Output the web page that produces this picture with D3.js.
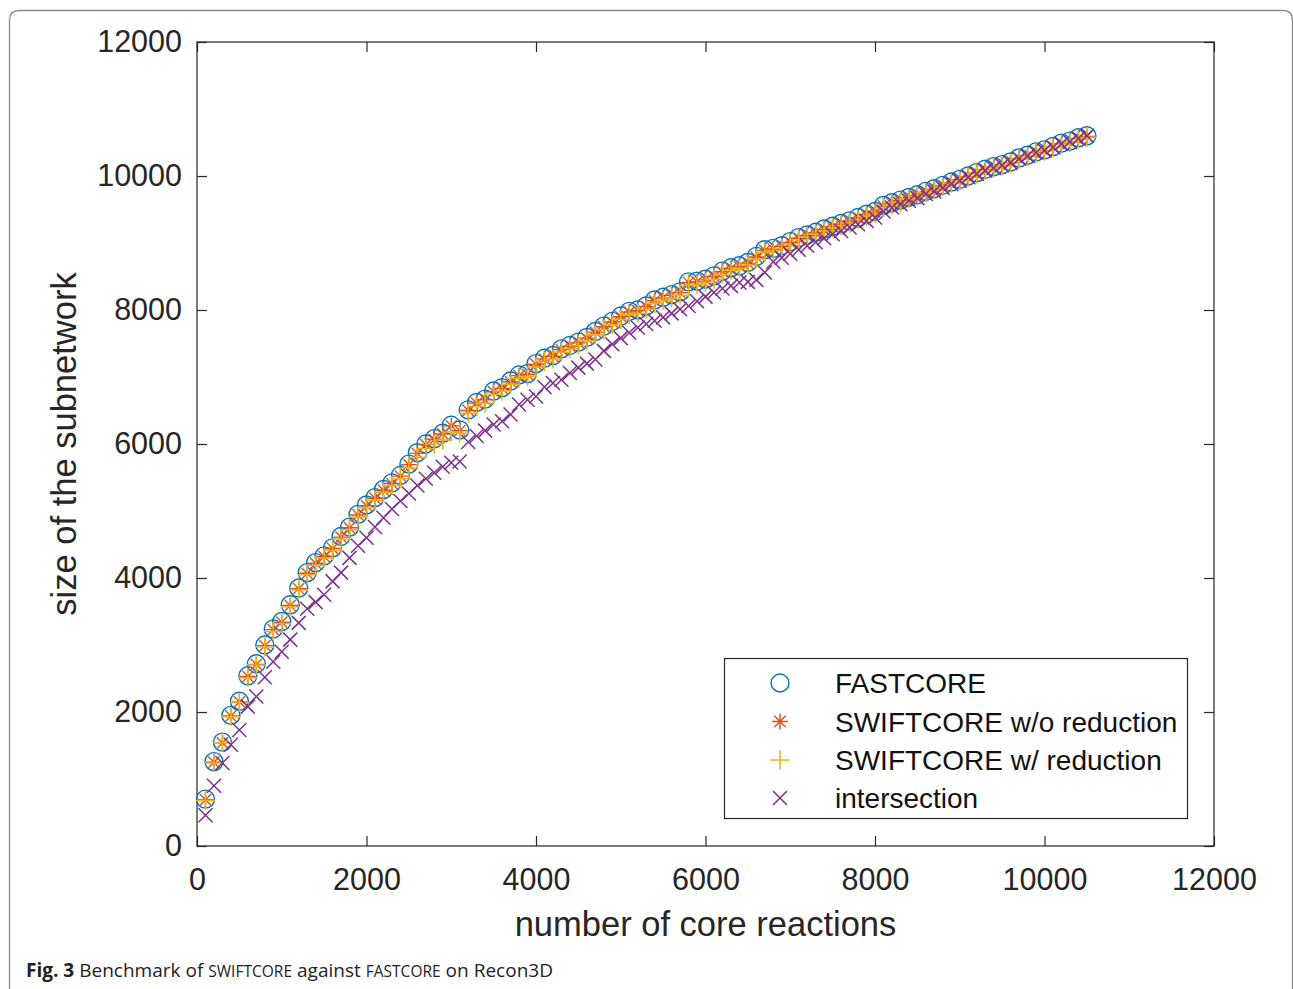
<!DOCTYPE html>
<html><head><meta charset="utf-8">
<script src="https://cdn.jsdelivr.net/npm/d3@7"></script>
<style>body{margin:0;background:#fff;} svg{display:block;}</style>
</head><body>
<svg id="c" width="1293" height="989"></svg>
<script>
// ---- data ----
const coreReactions = d3.range(100, 10501, 100); // 100 .. 10500, step 100 (x positions of the benchmark runs)
const fastcore = [700,1260,1550,1950,2160,2540,2720,3000,3240,3350,3600,3850,4080,4230,4330,4450,4620,4760,4950,5090,
5200,5320,5420,5530,5700,5870,6000,6080,6160,6280,6210,6510,6620,6670,6790,6840,6940,7030,7050,7200,
7280,7320,7420,7470,7520,7590,7680,7760,7830,7910,7980,8000,8060,8150,8190,8230,8270,8420,8430,8460,
8510,8580,8630,8660,8710,8800,8900,8920,8960,9020,9080,9120,9160,9210,9250,9290,9330,9380,9430,9470,
9560,9600,9640,9680,9720,9770,9810,9860,9910,9950,10000,10050,10100,10140,10170,10210,10270,10310,10360,10390,
10440,10490,10520,10570,10600];
const swiftNoRed = [690,1250,1540,1940,2150,2530,2710,2990,3230,3340,3590,3840,4070,4220,4320,4440,4610,4750,4940,5080,
5190,5310,5410,5520,5690,5860,5990,6070,6150,6270,6200,6500,6610,6660,6780,6830,6930,7020,7040,7190,
7270,7310,7410,7460,7510,7580,7670,7750,7820,7900,7970,7990,8050,8140,8180,8220,8260,8410,8420,8450,
8500,8570,8620,8650,8700,8790,8890,8910,8950,9010,9070,9110,9150,9200,9240,9280,9320,9370,9420,9460,
9550,9590,9630,9670,9710,9760,9800,9850,9900,9940,9990,10040,10090,10130,10160,10200,10260,10300,10350,10380,
10430,10480,10510,10560,10590];
const swiftRed = [680,1240,1540,1930,2140,2510,2700,2970,3200,3320,3570,3820,4050,4190,4300,4410,4580,4720,4910,5050,
5160,5280,5380,5480,5640,5800,5930,6000,6060,6180,6160,6460,6560,6610,6740,6790,6890,6980,7010,7150,
7230,7270,7370,7420,7470,7540,7630,7710,7780,7860,7930,7950,8010,8100,8140,8180,8220,8370,8380,8410,
8460,8530,8590,8620,8670,8760,8860,8880,8920,8990,9050,9090,9130,9180,9220,9260,9300,9350,9400,9440,
9530,9570,9610,9660,9700,9750,9790,9840,9890,9930,9980,10030,10080,10120,10150,10190,10250,10290,10340,10370,
10420,10470,10500,10550,10580];
const intersection = [460,900,1240,1510,1730,2080,2230,2520,2750,2900,3080,3330,3540,3640,3750,3950,4080,4300,4480,4600,
4760,4900,5030,5150,5260,5380,5480,5570,5660,5720,5740,6030,6120,6200,6290,6340,6440,6590,6660,6710,
6850,6910,6960,7060,7140,7200,7260,7390,7490,7580,7660,7740,7790,7840,7890,7950,8010,8060,8130,8200,
8260,8320,8360,8410,8420,8450,8560,8720,8780,8840,8900,8960,9010,9070,9130,9180,9230,9280,9330,9380,
9470,9530,9580,9630,9670,9730,9770,9820,9880,9930,9980,10030,10080,10120,10160,10200,10260,10300,10350,10380,
10430,10480,10510,10560,10600];
const xTicks = [0,2000,4000,6000,8000,10000,12000];
const yTicks = [0,2000,4000,6000,8000,10000,12000];
const seriesNames = ["FASTCORE","SWIFTCORE w/o reduction","SWIFTCORE w/ reduction","intersection"];
const seriesColors = ["#0072BD","#D95319","#EDB120","#7E2F8E"];
const seriesMarkers = ["circle","asterisk","plus","cross"];
const seriesValues = [fastcore, swiftNoRed, swiftRed, intersection];

// ---- drawing ----
const svg = d3.select("#c");
const W = 1293, H = 989;
const L = 197, R = 1214, T = 42, B = 846;
const font = "'Liberation Sans', Arial, Helvetica, sans-serif";
const axCol = "#262626";

// outer rounded frame
svg.append("path")
  .attr("d", `M9.5,${H} L9.5,20 Q9.5,10.5 19.5,10.5 L1283,10.5 Q1292.5,10.5 1292.5,20 L1292.5,${H}`)
  .attr("fill","none").attr("stroke","#8a8a8a").attr("stroke-width",1.3);

const x = d3.scaleLinear().domain([0,12000]).range([L,R]);
const y = d3.scaleLinear().domain([0,12000]).range([B,T]);

// box
svg.append("rect").attr("x",L).attr("y",T).attr("width",R-L).attr("height",B-T)
  .attr("fill","none").attr("stroke",axCol).attr("stroke-width",1.2);

const tickLen = 10;
function styleAxis(g){
  g.select(".domain").remove();
  g.selectAll(".tick line").attr("stroke",axCol).attr("stroke-width",1.2);
  g.selectAll(".tick text").attr("fill",axCol).style("font-family",font).style("font-size","30.5px");
}
// bottom
svg.append("g").attr("transform",`translate(0,${B})`)
  .call(d3.axisBottom(x).tickValues(xTicks).tickFormat(d3.format("d")).tickSizeInner(-tickLen).tickSizeOuter(0).tickPadding(22))
  .call(styleAxis);
// top (ticks only)
svg.append("g").attr("transform",`translate(0,${T})`)
  .call(d3.axisTop(x).tickValues(xTicks).tickFormat("").tickSizeInner(-tickLen).tickSizeOuter(0))
  .call(styleAxis);
// left
svg.append("g").attr("transform",`translate(${L},0)`)
  .call(d3.axisLeft(y).tickValues(yTicks).tickFormat(d3.format("d")).tickSizeInner(-tickLen).tickSizeOuter(0).tickPadding(15))
  .call(styleAxis);
// right (ticks only)
svg.append("g").attr("transform",`translate(${R},0)`)
  .call(d3.axisRight(y).tickValues(yTicks).tickFormat("").tickSizeInner(-tickLen).tickSizeOuter(0))
  .call(styleAxis);

// axis titles
svg.append("text").attr("x",(L+R)/2).attr("y",936).attr("text-anchor","middle")
  .style("font-family",font).style("font-size","34.5px").attr("fill",axCol).text("number of core reactions");
svg.append("text").attr("transform",`translate(76,${(T+B)/2}) rotate(-90)`).attr("text-anchor","middle")
  .style("font-family",font).style("font-size","34.5px").attr("fill",axCol).text("size of the subnetwork");

// marker drawing
function drawMarker(g, type, color, cx, cy){
  if(type==="circle"){
    g.append("circle").attr("cx",cx).attr("cy",cy).attr("r",9).attr("fill","none").attr("stroke",color).attr("stroke-width",1.4);
  } else if(type==="asterisk"){
    const s=8, d=s*0.707;
    g.append("path").attr("d",`M${cx-s},${cy}L${cx+s},${cy}M${cx},${cy-s}L${cx},${cy+s}M${cx-d},${cy-d}L${cx+d},${cy+d}M${cx-d},${cy+d}L${cx+d},${cy-d}`)
      .attr("stroke",color).attr("stroke-width",1.4).attr("fill","none");
  } else if(type==="plus"){
    const s=9.5;
    g.append("path").attr("d",`M${cx-s},${cy}L${cx+s},${cy}M${cx},${cy-s}L${cx},${cy+s}`)
      .attr("stroke",color).attr("stroke-width",1.5).attr("fill","none");
  } else {
    const s=7;
    g.append("path").attr("d",`M${cx-s},${cy-s}L${cx+s},${cy+s}M${cx-s},${cy+s}L${cx+s},${cy-s}`)
      .attr("stroke",color).attr("stroke-width",1.5).attr("fill","none");
  }
}

const plot = svg.append("g");
seriesValues.forEach((vals, si) => {
  const g = plot.append("g");
  vals.forEach((v, i) => drawMarker(g, seriesMarkers[si], seriesColors[si], x(coreReactions[i]), y(v)));
});

// legend
const lg = svg.append("g");
lg.append("rect").attr("x",724.5).attr("y",658.5).attr("width",463).attr("height",160)
  .attr("fill","#fff").attr("stroke",axCol).attr("stroke-width",1.2);
const rowY = [683, 721.5, 760, 798];
seriesNames.forEach((n,i)=>{
  drawMarker(lg, seriesMarkers[i], seriesColors[i], 780, rowY[i]);
  lg.append("text").attr("x",835).attr("y",rowY[i]).attr("dy","0.36em")
    .style("font-family",font).style("font-size","28px").attr("fill","#111").text(n);
});

// caption
const cap = svg.append("text").attr("x",26).attr("y",977)
  .style("font-family","'Open Sans','Noto Sans',sans-serif").style("font-size","19px").attr("fill","#222")
  .attr("textLength",527).attr("lengthAdjust","spacingAndGlyphs");
cap.append("tspan").style("font-weight","bold").text("Fig. 3");
cap.append("tspan").text(" Benchmark of ");
cap.append("tspan").style("font-size","15.5px").text("SWIFTCORE");
cap.append("tspan").text(" against ");
cap.append("tspan").style("font-size","15.5px").text("FASTCORE");
cap.append("tspan").text(" on Recon3D");
</script>
</body></html>
